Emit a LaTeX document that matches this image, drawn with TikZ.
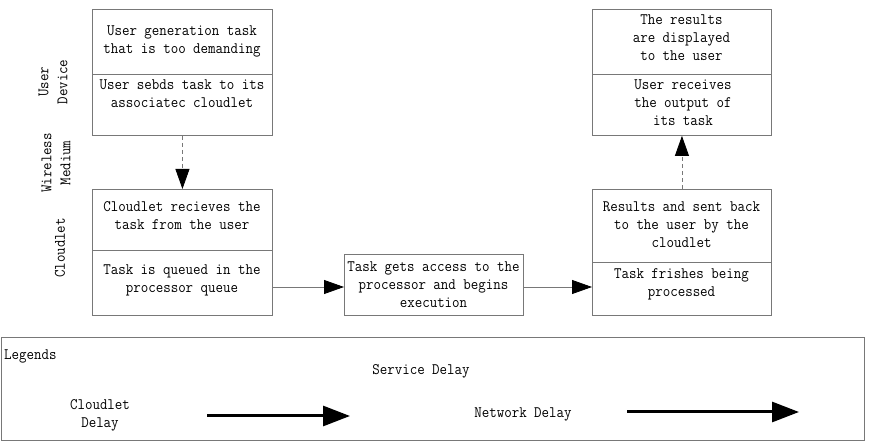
\documentclass[tikz,border=0pt]{standalone}
\usepackage{fontspec}
\newfontfamily\mono[FakeStretch=0.91]{Latin Modern Mono}
\usetikzlibrary{arrows.meta}
\newcommand\fst{\rule{0pt}{11pt}}
\definecolor{boxgray}{RGB}{120,120,120}
\tikzset{
  part/.style={draw=boxgray, line width=0.9pt, minimum width=180pt, inner sep=0pt, anchor=north west},
  txt/.style={font=\mono\fontsize{16}{18}\selectfont, align=center, inner sep=0pt, anchor=north},
  side/.style={font=\mono\fontsize{16}{19}\selectfont, align=center, inner sep=0pt, rotate=90},
  flow/.style={draw=boxgray, line width=0.8pt, -{Triangle[length=20pt,width=14pt,color=black]}},
  dflow/.style={flow, dash pattern=on 4pt off 3pt},
  legarrow/.style={line width=3pt, -{Triangle[length=27pt,width=20pt]}}
}
\begin{document}
\begin{tikzpicture}[x=1pt,y=-1pt]
\useasboundingbox (0,0) rectangle (871,446);
% Box 1: user device
\node[part, minimum height=65pt] (b1u) at (92,9) {};
\node[part, minimum height=61pt] (b1l) at (92,74) {};
\node[txt] (t1u) at (182,24) {\fst User generation task\\that is too demanding};
\node[txt] (t1l) at (182,78) {\fst User sebds task to its\\associatec cloudlet};
% Box 2: cloudlet
\node[part, minimum height=61pt] (b2u) at (92,189) {};
\node[part, minimum height=65pt] (b2l) at (92,250) {};
\node[txt] (t2u) at (182,200) {\fst Cloudlet recieves the\\task from the user};
\node[txt] (t2l) at (182,263) {\fst Task is queued in the\\processor queue};
% Box 3
\node[part, minimum width=179pt, minimum height=61pt] (b3) at (344,254) {};
\node[txt] (t3) at (433.5,260) {\fst Task gets access to the\\processor and begins\\execution};
% Box 4
\node[part, minimum width=179pt, minimum height=73pt] (b4u) at (592,189) {};
\node[part, minimum width=179pt, minimum height=53pt] (b4l) at (592,262) {};
\node[txt] (t4u) at (681.5,200) {\fst Results and sent back\\to the user by the\\cloudlet};
\node[txt] (t4l) at (681.5,267) {\fst Task frishes being\\processed};
% Box 5
\node[part, minimum width=179pt, minimum height=65pt] (b5u) at (592,9) {};
\node[part, minimum width=179pt, minimum height=61pt] (b5l) at (592,74) {};
\node[txt] (t5u) at (681.5,13) {\fst The results\\are displayed\\to the user};
\node[txt] (t5l) at (683,78) {\fst User receives\\the output of\\its task};
% side labels
\node[side] (sud) at (53,82) {User\\Device};
\node[side] (swm) at (56,163) {Wireless\\Medium};
\node[side] (scl) at (60,248) {Cloudlet};
% connectors
\coordinate (ya) at (0,287);
\draw[dflow] (b1l.south) -- (b2u.north);
\draw[dflow] (b4u.north) -- (b5l.south);
\draw[flow] (b2l.east |- ya) -- (b3.west |- ya);
\draw[flow] (b3.east |- ya) -- (b4l.west |- ya);
% legend
\node[draw=boxgray, line width=1pt, minimum width=863.5pt, minimum height=103pt, inner sep=0pt, anchor=north west] (leg) at (0.5,337) {};
\node[txt, anchor=north west] (lt) at (4,348) {\fst Legends};
\node[txt] (lsd) at (421,363) {\fst Service Delay};
\node[txt] (lcd) at (100,398) {\fst Cloudlet\\Delay};
\node[txt] (lnd) at (523,406) {\fst Network Delay};
\coordinate (a1s) at (207,416);
\coordinate (a1e) at (350,416);
\coordinate (a2s) at (627,412);
\coordinate (a2e) at (799,412);
\draw[legarrow] (a1s) -- (a1e);
\draw[legarrow] (a2s) -- (a2e);
\end{tikzpicture}
\end{document}
